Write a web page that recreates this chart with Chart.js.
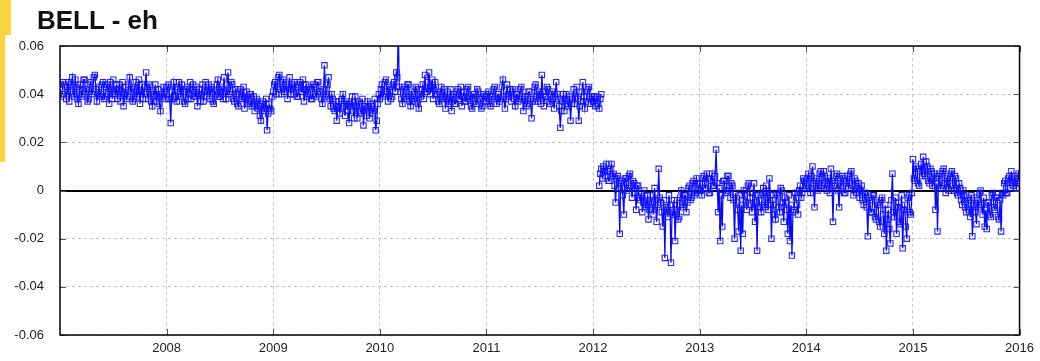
<!DOCTYPE html>
<html>
<head>
<meta charset="utf-8">
<title>BELL - eh</title>
<script src="https://cdn.jsdelivr.net/npm/chart.js@4.4.1/dist/chart.umd.min.js"></script>
<style>
  html, body { margin: 0; padding: 0; background: #fff; width: 1040px; height: 361px; overflow: hidden; }
  #wrap { position: relative; width: 1040px; height: 361px; }
  #plot { position: absolute; left: 0; top: 0; }
  .tab-top { position: absolute; left: 0; top: 0; width: 11px; height: 35px; background: #ffd23f; }
  .tab-side { position: absolute; left: 0; top: 35px; width: 5px; height: 127px; background: #ffd23f; }
  h1 { position: absolute; left: 37px; top: 5px; margin: 0; line-height: 26px;
       font: bold 26px "Liberation Sans", Arial, sans-serif; color: #111; }
</style>
</head>
<body>
<div id="wrap">
  <div class="tab-top"></div>
  <div class="tab-side"></div>
  <canvas id="plot" width="1040" height="361"></canvas>
  <h1>BELL - eh</h1>
</div>
<script>
// East residuals of station BELL, two values per week (104 per year), in millimetres.
// First run: 2007 to early 2012.
const eh2007 = [42,39,40,45,44,41,38,43,45,37,41,44,47,40,39,46,43,38,36,42,
  44,39,40,46,46,41,42,37,38,44,45,40,41,47,48,42,37,40,43,39,
  40,44,45,38,39,43,44,40,36,45,42,38,46,41,40,44,38,42,44,37,
  41,45,35,40,43,38,39,44,47,41,42,37,38,43,45,39,40,46,36,41,
  44,38,41,43,49,40,38,44,43,37,35,41,40,44,37,39,42,36,33,40,
  39,43,41,38];
const eh2008 = [40,43,44,38,28,41,38,45,42,39,37,43,45,40,39,44,41,37,36,42,
  43,38,40,45,38,42,44,39,39,43,35,40,42,37,40,44,37,41,45,39,
  41,44,38,42,43,37,36,41,40,44,46,39,39,43,42,38,47,41,38,44,
  49,40,41,45,44,38,37,42,40,36,35,41,42,38,39,43,34,38,41,36,
  37,40,40,35,36,39,33,37,38,34,35,31,29,36,37,33,34,38,25,32,
  36,34,33,39];
const eh2009 = [41,44,45,40,43,47,48,42,40,45,46,41,42,44,38,43,47,40,44,42,
  40,45,43,39,39,44,45,41,41,46,37,42,44,39,40,43,42,38,38,44,
  43,40,39,45,45,41,41,38,36,42,52,39,40,44,47,38,35,40,38,34,
  33,37,29,35,37,32,34,38,40,35,31,37,36,33,28,36,35,39,33,30,
  39,35,30,37,36,33,32,38,27,35,34,31,37,35,30,36,35,32,33,38,
  25,29,36,40];
const eh2010 = [38,42,44,39,40,45,46,41,37,43,42,38,39,44,45,41,49,47,68,43,
  41,38,36,42,43,39,38,44,44,37,35,41,40,38,37,43,42,36,34,40,
  39,42,44,38,48,41,41,45,49,40,43,46,38,42,45,40,40,37,36,41,
  43,38,39,42,34,38,41,36,37,42,33,39,40,36,36,41,42,38,38,43,
  35,39,41,37,37,42,43,38,39,35,34,40,40,37,36,42,41,38,38,34,
  35,40,39,37];
const eh2011 = [37,40,41,36,35,39,39,42,43,38,36,40,40,37,38,43,46,39,34,38,
  44,40,39,42,37,41,42,38,35,40,40,37,38,42,43,39,33,38,39,35,
  36,41,41,38,30,37,38,43,44,39,37,41,40,36,48,41,35,39,39,43,
  42,37,36,40,41,38,34,39,45,40,38,35,26,33,37,40,33,38,40,36,
  35,39,29,36,38,42,36,39,43,38,29,35,37,41,45,39,34,37,39,42,
  43,38,36,39];
const eh2012a = [37,39,35,38,39,36,34,38,40];

// Second run: from 2012.06 to the start of 2016.
const eh2012bFirstSample = 6;
const eh2012b = [2,7,9,5,10,8,6,11,8,4,4,9,11,6,7,2,-5,5,6,1,
  -18,3,4,-2,-10,5,5,0,1,6,7,2,-3,4,3,-1,-8,2,2,-3,
  -4,-1,-9,-5,0,-7,-6,-2,-12,-8,-2,-5,-7,-10,1,-4,-13,-6,9,-3,
  -5,-9,-15,-4,-28,-7,-8,-11,-2,-6,-30,-9,-10,-4,-21,-8,-4,-12,-11,-3,
  0,-6,-7,-2,-2,-9,-5,1,2,-4,-3,3,4,-2,-1,5,3,0];
const eh2013 = [3,0,-2,5,6,1,1,7,5,-1,-1,4,7,2,2,6,17,3,-9,1,
  -21,-2,-15,4,4,-1,0,6,6,2,-3,3,2,-4,-20,-1,-5,-8,-17,-2,
  -25,-6,-18,0,-2,-5,-8,2,3,-3,-6,-9,-1,3,-13,-5,-25,-2,-4,-7,
  -9,-1,1,-6,-7,2,-3,-8,5,-2,-20,-4,-6,-10,-12,-1,-2,-7,-9,1,
  0,-5,-13,-3,-5,-8,-18,-2,-21,-6,-27,-9,-8,-1,-3,-6,-10,0,2,-3,
  -1,5,4,1];
const eh2014 = [2,5,7,1,-1,6,10,3,-7,4,5,0,1,7,8,2,3,8,6,1,
  0,5,4,-1,9,4,-13,2,3,6,7,0,-7,3,2,6,5,-1,-1,4,
  6,1,3,7,8,2,-2,5,4,-1,1,3,-3,0,2,-4,-6,-1,-1,-7,
  -19,-3,-4,-9,-9,-2,-2,-11,-12,-5,-6,-13,-15,-4,-3,-10,-18,-6,-25,-12,
  -8,-16,-22,-4,7,-9,-11,-3,-18,-7,-5,-13,-14,-2,-24,-8,-6,-15,-20,-3,
  -2,-9,-10,-1];
const eh2015 = [13,5,4,10,9,3,2,8,11,6,14,7,6,12,10,4,3,9,8,2,
  5,7,-8,3,-17,6,7,1,2,8,9,3,-1,5,6,0,3,7,8,2,
  0,6,5,-1,-2,3,1,-4,-6,0,-2,-7,-9,-3,-4,-8,-11,-2,-19,-6,
  -3,-9,-14,-4,-7,-1,0,-6,-10,-3,-15,-8,-16,-5,-5,-10,-11,-2,-1,-7,
  -8,-3,-3,-11,-12,-4,-17,-1,-2,3,4,-1,-1,5,6,1,8,3,2,6,
  5,1,3,7];
const eh2016 = [4];

// Axis ticks
const xTickYears = [2008, 2009, 2010, 2011, 2012, 2013, 2014, 2015, 2016];
const yTickValues = [-0.06, -0.04, -0.02, 0, 0.02, 0.04, 0.06];
const yTickLabels = ['-0.06', '-0.04', '-0.02', '0', '0.02', '0.04', '0.06'];

const SAMPLES_PER_YEAR = 104;
function yearSeries(year, values, firstSample = 0) {
  return values.map((v, i) => ({ x: year + (firstSample + i) / SAMPLES_PER_YEAR, y: v / 1000 }));
}

const runOne = [].concat(
  yearSeries(2007, eh2007), yearSeries(2008, eh2008), yearSeries(2009, eh2009),
  yearSeries(2010, eh2010), yearSeries(2011, eh2011), yearSeries(2012, eh2012a)
);
const runTwo = [].concat(
  yearSeries(2012, eh2012b, eh2012bFirstSample), yearSeries(2013, eh2013),
  yearSeries(2014, eh2014), yearSeries(2015, eh2015), yearSeries(2016, eh2016)
);

const BLUE = '#0808ff';
const seriesStyle = {
  borderColor: BLUE,
  borderWidth: 1.25,
  pointStyle: 'rect',
  pointRadius: 3.8,
  pointBorderWidth: 1.1,
  pointBorderColor: 'rgba(16,16,255,0.9)',
  pointBackgroundColor: 'rgba(0,0,0,0)',
  tension: 0,
  clip: 0
};

// Closed frame with short inward ticks on all four sides.
const framePlugin = {
  id: 'frame',
  afterDraw(chart) {
    const { ctx, chartArea: a, scales } = chart;
    ctx.save();
    ctx.strokeStyle = '#555';
    ctx.lineWidth = 1;
    ctx.beginPath();
    scales.y.ticks.forEach(t => {
      const py = Math.round(scales.y.getPixelForValue(t.value)) + 0.5;
      ctx.moveTo(a.left, py); ctx.lineTo(a.left + 6, py);
      ctx.moveTo(a.right, py); ctx.lineTo(a.right - 6, py);
    });
    scales.x.ticks.forEach(t => {
      const px = Math.round(scales.x.getPixelForValue(t.value)) + 0.5;
      ctx.moveTo(px, a.bottom); ctx.lineTo(px, a.bottom - 6);
      ctx.moveTo(px, a.top); ctx.lineTo(px, a.top + 6);
    });
    ctx.stroke();
    ctx.strokeStyle = '#000';
    ctx.lineWidth = 1.5;
    ctx.strokeRect(a.left, a.top, a.right - a.left, a.bottom - a.top);
    ctx.restore();
  }
};

const tickFont = { family: '"Liberation Sans", Arial, sans-serif', size: 13 };

new Chart(document.getElementById('plot'), {
  type: 'line',
  data: {
    datasets: [
      Object.assign({ label: 'eh', data: runOne }, seriesStyle),
      Object.assign({ label: 'eh ', data: runTwo }, seriesStyle)
    ]
  },
  options: {
    responsive: false,
    animation: false,
    devicePixelRatio: 1,
    layout: { padding: { left: 0, right: 20, top: 46, bottom: 0 } },
    plugins: { legend: { display: false }, tooltip: { enabled: false }, title: { display: false } },
    scales: {
      x: {
        type: 'linear',
        min: 2007,
        max: 2016,
        afterBuildTicks: s => { s.ticks = xTickYears.map(v => ({ value: v })); },
        afterFit: s => { s.height = 26; },
        ticks: { callback: v => String(v), font: tickFont, color: '#1e1e1e', padding: 6, maxRotation: 0, autoSkip: false },
        grid: { color: '#c6c6c6', lineWidth: 1, drawTicks: false },
        border: { display: false, dash: [3, 3] }
      },
      y: {
        type: 'linear',
        min: -0.06,
        max: 0.06,
        afterBuildTicks: s => { s.ticks = yTickValues.map(v => ({ value: v })); },
        afterFit: s => { s.width = 60; },
        ticks: {
          callback: v => yTickLabels[yTickValues.findIndex(t => Math.abs(t - v) < 1e-9)],
          font: tickFont, color: '#1e1e1e', padding: 16
        },
        grid: {
          color: c => (c.tick && c.tick.value === 0) ? '#000' : '#c6c6c6',
          lineWidth: c => (c.tick && c.tick.value === 0) ? 2 : 1,
          drawTicks: false
        },
        border: { display: false, dash: c => (c.tick && c.tick.value === 0) ? [] : [3, 3] }
      }
    }
  },
  plugins: [framePlugin]
});
</script>
</body>
</html>
